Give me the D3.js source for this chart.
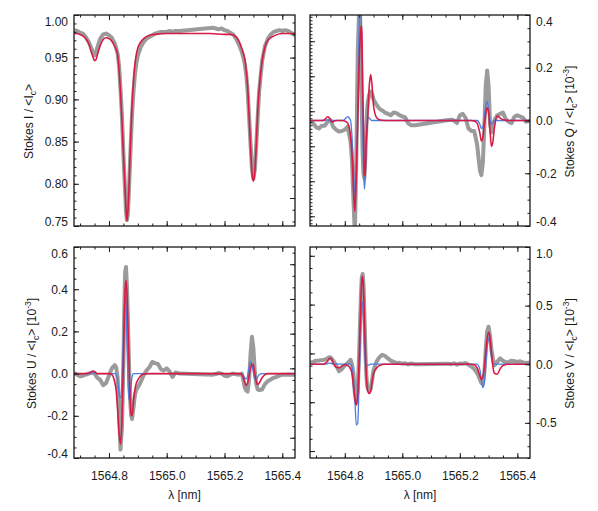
<!DOCTYPE html>
<html>
<head>
<meta charset="utf-8">
<title>Stokes profiles</title>
<style>
    body { margin: 0; background: #fff; }
    svg { display: block; font-family: "Liberation Sans", Arial, Helvetica, sans-serif; }
</style>
<script src="https://d3js.org/d3.v7.min.js"></script>
</head>
<body>
<svg id="chart" width="598" height="511"></svg>
<script>
// wavelength window and x tick labels [nm]
const wlRange = [1564.679, 1565.444];
const wlTicks = [1564.8, 1565.0, 1565.2, 1565.4];

// y tick labels per Stokes parameter
const iTicks = [0.75, 0.80, 0.85, 0.90, 0.95, 1.00];
const qTicks = [-0.4, -0.2, 0.0, 0.2, 0.4];
const uTicks = [-0.4, -0.2, 0.0, 0.2, 0.4, 0.6];
const vTicks = [-0.5, 0.0, 0.5, 1.0];

// observed profile samples (gray)
const obsWl = [
    1564.680, 1564.690, 1564.700, 1564.710, 1564.720, 1564.730, 1564.740, 1564.745, 1564.750, 1564.755,
    1564.760, 1564.770, 1564.780, 1564.790, 1564.800, 1564.810, 1564.820, 1564.825, 1564.830, 1564.835,
    1564.840, 1564.845, 1564.850, 1564.853, 1564.856, 1564.859, 1564.862, 1564.865, 1564.868, 1564.871,
    1564.874, 1564.877, 1564.880, 1564.885, 1564.890, 1564.895, 1564.900, 1564.910, 1564.920, 1564.930,
    1564.940, 1564.950, 1564.960, 1564.970, 1564.980, 1564.990, 1565.000, 1565.010, 1565.020, 1565.030,
    1565.045, 1565.160, 1565.170, 1565.180, 1565.190, 1565.200, 1565.210, 1565.220, 1565.230, 1565.240,
    1565.250, 1565.260, 1565.265, 1565.270, 1565.275, 1565.280, 1565.285, 1565.290, 1565.295, 1565.300,
    1565.305, 1565.310, 1565.315, 1565.320, 1565.330, 1565.340, 1565.350, 1565.360, 1565.370, 1565.380,
    1565.390, 1565.400, 1565.410, 1565.420, 1565.430, 1565.445
];
const iObs = [
    0.982, 0.981, 0.979, 0.978, 0.974, 0.968, 0.960, 0.955, 0.952, 0.955,
    0.962, 0.972, 0.977, 0.978, 0.976, 0.973, 0.966, 0.961, 0.954, 0.940,
    0.912, 0.880, 0.836, 0.812, 0.790, 0.768, 0.757, 0.763, 0.782, 0.808,
    0.835, 0.860, 0.882, 0.910, 0.930, 0.943, 0.952, 0.962, 0.968, 0.972,
    0.974, 0.976, 0.978, 0.979, 0.980, 0.980, 0.980, 0.981, 0.980, 0.981,
    0.981, 0.985, 0.984, 0.983, 0.984, 0.982, 0.981, 0.979, 0.977, 0.972,
    0.965, 0.956, 0.950, 0.942, 0.930, 0.910, 0.880, 0.848, 0.818, 0.806,
    0.817, 0.846, 0.880, 0.910, 0.945, 0.963, 0.972, 0.977, 0.980, 0.981,
    0.982, 0.981, 0.982, 0.981, 0.979, 0.976
];
const qObs = [
    -0.005, -0.01, -0.025, -0.03, -0.02, -0.02, -0.005, 0.0, 0.002, -0.01,
    -0.025, -0.035, -0.042, -0.04, -0.035, -0.023, -0.08, -0.15, -0.30, -0.43,
    -0.15, 0.25, 0.43, 0.40, 0.25, 0.05, -0.12, -0.20, -0.22, -0.15,
    -0.05, 0.03, 0.07, 0.10, 0.11, 0.10, 0.08, 0.06, 0.045, 0.038,
    0.03, 0.025, 0.02, 0.03, 0.028, 0.02, 0.016, 0.012, -0.01, -0.018,
    -0.018, 0.002, 0.003, 0.0, -0.01, 0.02, 0.025, 0.01, -0.03, -0.04,
    -0.04, -0.09, -0.14, -0.19, -0.207, -0.16, -0.03, 0.13, 0.19, 0.13,
    -0.01, -0.045, -0.02, 0.0, 0.02, 0.025, 0.03, 0.005, -0.005, -0.01,
    0.015, 0.02, 0.015, 0.01, -0.005, -0.002
];
const uObs = [
    0.003, -0.005, -0.013, -0.01, -0.005, 0.0, 0.005, 0.003, 0.0, -0.01,
    -0.02, -0.03, -0.055, -0.045, -0.01, 0.025, 0.04, 0.03, -0.02, -0.2,
    -0.36, -0.25, 0.05, 0.3, 0.48, 0.505, 0.42, 0.28, 0.12, -0.03,
    -0.14, -0.2, -0.215, -0.16, -0.10, -0.075, -0.065, -0.04, -0.008, 0.015,
    0.03, 0.055, 0.05, 0.045, 0.02, 0.015, 0.025, 0.01, -0.016, 0.005,
    0.0, -0.005, -0.002, 0.003, 0.0, -0.01, -0.013, -0.005, 0.0, -0.003,
    -0.005, 0.0, -0.03, -0.065, -0.08, -0.085, -0.03, 0.09, 0.175, 0.12,
    0.005, -0.05, -0.075, -0.078, -0.075, -0.05, -0.035, -0.028, -0.02, -0.015,
    -0.01, -0.005, -0.006, -0.004, -0.005, -0.005
];
const vObs = [
    0.015, 0.02, 0.03, 0.032, 0.035, 0.038, 0.05, 0.06, 0.058, 0.045,
    0.03, -0.01, -0.06, -0.04, -0.01, 0.01, 0.038, 0.0, -0.08, -0.25,
    -0.33, -0.22, 0.1, 0.35, 0.58, 0.74, 0.77, 0.68, 0.45, 0.17,
    -0.05, -0.17, -0.21, -0.23, -0.21, -0.13, -0.05, 0.02, 0.06, 0.08,
    0.07, 0.05, 0.03, 0.02, 0.01, 0.012, 0.005, 0.008, -0.002, 0.006,
    0.0, 0.005, 0.0, 0.008, -0.004, 0.006, 0.004, 0.01, -0.005, -0.02,
    -0.04, -0.075, -0.10, -0.13, -0.16, -0.17, -0.08, 0.12, 0.28, 0.32,
    0.24, 0.12, 0.05, -0.01, 0.02, 0.05, 0.03, 0.015, 0.02, 0.03,
    0.025, 0.02, 0.025, 0.015, 0.01, 0.015
];

// synthetic profiles (blue = first fit, red = second fit)
const modelWl = [
    1564.68, 1564.70, 1564.72, 1564.73, 1564.74, 1564.745, 1564.75, 1564.755, 1564.76, 1564.77,
    1564.78, 1564.79, 1564.80, 1564.81, 1564.82, 1564.825, 1564.83, 1564.835, 1564.84, 1564.845,
    1564.85, 1564.853, 1564.856, 1564.859, 1564.862, 1564.865, 1564.868, 1564.871, 1564.874, 1564.877,
    1564.88, 1564.885, 1564.89, 1564.895, 1564.90, 1564.91, 1564.92, 1564.94, 1564.96, 1565.00,
    1565.05, 1565.10, 1565.15, 1565.20, 1565.22, 1565.24, 1565.25, 1565.26, 1565.27, 1565.275,
    1565.28, 1565.285, 1565.29, 1565.295, 1565.30, 1565.305, 1565.31, 1565.315, 1565.32, 1565.33,
    1565.34, 1565.35, 1565.37, 1565.40, 1565.445
];
const iRed = [
    0.978, 0.977, 0.972, 0.966, 0.955, 0.950, 0.946, 0.947, 0.953, 0.964,
    0.971, 0.973, 0.972, 0.969, 0.963, 0.959, 0.953, 0.935, 0.908, 0.875,
    0.835, 0.815, 0.793, 0.770, 0.756, 0.765, 0.785, 0.812, 0.842, 0.870,
    0.893, 0.922, 0.942, 0.954, 0.961, 0.968, 0.972, 0.976, 0.977, 0.978,
    0.978, 0.978, 0.978, 0.977, 0.977, 0.974, 0.969, 0.960, 0.948, 0.935,
    0.915, 0.880, 0.845, 0.813, 0.803, 0.815, 0.847, 0.887, 0.912, 0.945,
    0.962, 0.970, 0.975, 0.978, 0.978
];
const qBlue = [
    0.0, 0.0, 0.0, 0.0, 0.002, 0.0, 0.0, 0.0, 0.0, 0.0,
    0.0, 0.0, 0.005, 0.015, 0.0, -0.06, -0.18, -0.28, -0.22, 0.05,
    0.36, 0.46, 0.44, 0.25, 0.0, -0.17, -0.26, -0.22, -0.10, -0.02,
    0.01, 0.01, 0.003, 0.0, 0.0, 0.0, 0.0, 0.0, 0.0, 0.0,
    0.0, 0.0, 0.0, 0.0, 0.0, 0.0, 0.0, 0.0, -0.015, -0.03,
    -0.025, 0.01, 0.055, 0.072, 0.04, 0.0, -0.015, -0.01, 0.0, 0.0,
    0.0, 0.0, 0.0, 0.0, 0.0
];
const qRed = [
    0.0, 0.0, 0.0, 0.003, 0.014, 0.012, 0.002, -0.006, -0.004, 0.0,
    0.0, 0.0, -0.002, -0.01, -0.06, -0.13, -0.26, -0.345, -0.20, 0.0,
    0.22, 0.30, 0.35, 0.36, 0.15, -0.03, -0.20, -0.21, -0.09, -0.035,
    0.02, 0.13, 0.174, 0.13, 0.055, 0.012, 0.003, 0.0, 0.0, 0.0,
    0.0, 0.0, 0.0, 0.0, 0.0, 0.0, -0.002, -0.01, -0.05, -0.078,
    -0.065, -0.02, 0.025, 0.048, 0.03, -0.04, -0.098, -0.08, -0.03, 0.017,
    0.01, 0.003, 0.0, 0.0, 0.0
];
const uBlue = [
    0.0, 0.0, 0.0, 0.0, 0.003, 0.005, 0.003, 0.0, 0.0, 0.0,
    0.0, 0.0, 0.0, 0.0, 0.0, -0.005, -0.03, -0.09, -0.115, -0.04,
    0.15, 0.30, 0.37, 0.33, 0.18, 0.0, -0.10, -0.125, -0.10, -0.05,
    -0.015, 0.0, 0.0, 0.0, 0.0, 0.0, 0.0, 0.0, 0.0, 0.0,
    0.0, 0.0, 0.0, 0.0, 0.0, 0.0, 0.0, 0.0, -0.02, -0.026,
    -0.01, 0.03, 0.057, 0.045, 0.005, -0.025, -0.028, -0.015, -0.005, 0.0,
    0.0, 0.0, 0.0, 0.0, 0.0
];
const uRed = [
    0.0, 0.0, 0.0, 0.002, 0.008, 0.012, 0.01, 0.004, 0.0, 0.0,
    0.0, 0.0, 0.0, -0.005, -0.04, -0.08, -0.17, -0.28, -0.335, -0.22,
    0.05, 0.25, 0.40, 0.442, 0.39, 0.27, 0.12, -0.03, -0.14, -0.195,
    -0.20, -0.13, -0.075, -0.045, -0.03, -0.01, -0.002, 0.0, 0.0, 0.0,
    0.0, 0.0, 0.0, 0.0, 0.0, 0.0, 0.0, -0.005, -0.04, -0.056,
    -0.045, -0.01, 0.025, 0.045, 0.04, 0.0, -0.04, -0.052, -0.045, -0.02,
    -0.005, 0.0, 0.0, 0.0, 0.0
];
const vBlue = [
    0.0, 0.0, 0.0, 0.0, 0.005, 0.01, 0.01, 0.005, 0.0, 0.0,
    0.0, 0.0, 0.0, 0.0, 0.0, -0.02, -0.12, -0.30, -0.52, -0.50,
    -0.12, 0.15, 0.40, 0.51, 0.53, 0.40, 0.18, 0.03, -0.01, -0.012,
    -0.01, -0.005, 0.0, 0.0, 0.0, 0.0, 0.0, 0.0, 0.0, 0.0,
    0.0, 0.0, 0.0, 0.0, 0.0, 0.0, 0.0, 0.0, -0.05, -0.13,
    -0.20, -0.16, -0.02, 0.15, 0.225, 0.17, 0.06, 0.01, 0.0, 0.0,
    0.0, 0.0, 0.0, 0.0, 0.0
];
const vRed = [
    0.0, 0.0, 0.0, 0.005, 0.025, 0.045, 0.053, 0.04, 0.01, -0.025,
    -0.03, -0.015, -0.005, -0.01, -0.04, -0.08, -0.18, -0.29, -0.35, -0.25,
    0.05, 0.30, 0.55, 0.72, 0.75, 0.65, 0.42, 0.15, -0.06, -0.18,
    -0.23, -0.25, -0.23, -0.15, -0.08, -0.035, -0.012, 0.0, 0.0, 0.0,
    0.0, 0.0, 0.0, 0.0, 0.0, 0.0, -0.005, -0.03, -0.10, -0.13,
    -0.11, -0.03, 0.10, 0.22, 0.272, 0.23, 0.10, -0.02, -0.075, -0.085,
    -0.04, -0.01, 0.0, 0.0, 0.0
];

const panels = [
    { key: "I", col: 0, row: 0, obs: iObs, blue: null, red: iRed, yRange: [0.75, 1.0], ticks: iTicks,
      minor: 0.01, digits: 2, unit: false, sec: [-2.39, 15.64], secMajor: 6, titleX: 33 },
    { key: "Q", col: 1, row: 0, obs: qObs, blue: qBlue, red: qRed, yRange: [-0.4, 0.4], ticks: qTicks,
      minor: 0.05, digits: 1, unit: true, sec: [-2.77, 57.5], secMajor: 10, titleX: 574 },
    { key: "U", col: 0, row: 1, obs: uObs, blue: uBlue, red: uRed, yRange: [-0.4, 0.6], ticks: uTicks,
      minor: 0.05, digits: 1, unit: true, sec: [-1.75, 16.49], secMajor: 3, titleX: 36 },
    { key: "V", col: 1, row: 1, obs: vObs, blue: vBlue, red: vRed, yRange: [-0.8, 1.0], ticks: vTicks,
      minor: 0.1, digits: 1, unit: true, sec: [-0.57, 16.72], secMajor: 4, titleX: 574 }
];

const colX = [74, 310], colW = [221, 220];
const rowY = [15, 247], rowH = 211;
const ink = "#1a1a1a";
const fontSize = 12;

const svg = d3.select("#chart");
const defs = svg.append("defs");

function ticksAxis(g, axisFn, scale, values, tx, ty, size) {
    const a = g.append("g")
        .attr("transform", `translate(${tx},${ty})`)
        .call(axisFn(scale).tickValues(values).tickSizeInner(-size).tickSizeOuter(0).tickFormat(""));
    a.select(".domain").remove();
    a.selectAll("line").attr("stroke", ink).attr("stroke-width", 1);
    return a;
}

function stepValues(lo, hi, step) {
    const out = [];
    const n0 = Math.ceil(lo / step - 1e-6), n1 = Math.floor(hi / step + 1e-6);
    for (let n = n0; n <= n1; n++) out.push(+(n * step).toFixed(6));
    return out;
}

panels.forEach((p, idx) => {
    const left = colX[p.col], width = colW[p.col];
    const top = rowY[p.row], bottom = top + rowH;
    const right = left + width;

    const x = d3.scaleLinear().domain(wlRange).range([left, right]);
    const y = d3.scaleLinear().domain(p.yRange).range([bottom, top]);
    const ySec = d3.scaleLinear().domain(p.sec).range([bottom, top]);

    const g = svg.append("g").attr("class", "panel-" + p.key);

    defs.append("clipPath").attr("id", "clip" + idx)
        .append("rect").attr("x", left).attr("y", top).attr("width", width).attr("height", rowH);

    const plot = g.append("g").attr("clip-path", `url(#clip${idx})`);

    const lineLin = d3.line().x(d => x(d[0])).y(d => y(d[1])).curve(d3.curveLinear);
    const lineSmooth = d3.line().x(d => x(d[0])).y(d => y(d[1])).curve(d3.curveMonotoneX);

    plot.append("path")
        .datum(obsWl.map((w, i) => [w, p.obs[i]]))
        .attr("d", lineLin)
        .attr("fill", "none")
        .attr("stroke", "#9b9b9b")
        .attr("stroke-width", 4)
        .attr("stroke-linejoin", "round");

    if (p.blue) {
        plot.append("path")
            .datum(modelWl.map((w, i) => [w, p.blue[i]]))
            .attr("d", lineSmooth)
            .attr("fill", "none")
            .attr("stroke", "#4a7de0")
            .attr("stroke-width", 1.3);
    }

    plot.append("path")
        .datum(modelWl.map((w, i) => [w, p.red[i]]))
        .attr("d", lineSmooth)
        .attr("fill", "none")
        .attr("stroke", "#d81b45")
        .attr("stroke-width", 1.6);

    // frame
    g.append("rect")
        .attr("x", left).attr("y", top).attr("width", width).attr("height", rowH)
        .attr("fill", "none").attr("stroke", ink).attr("stroke-width", 1.3);

    // x ticks, top and bottom
    const xMinor = stepValues(wlRange[0], wlRange[1], 0.05);
    ticksAxis(g, d3.axisTop, x, xMinor, 0, top, 2.5);
    ticksAxis(g, d3.axisTop, x, wlTicks, 0, top, 5);
    ticksAxis(g, d3.axisBottom, x, xMinor, 0, bottom, 2.5);
    const xb = ticksAxis(g, d3.axisBottom, x, wlTicks, 0, bottom, 5);
    if (p.row === 1) {
        xb.call(d3.axisBottom(x).tickValues(wlTicks).tickSizeInner(-5).tickSizeOuter(0)
                .tickPadding(13.5).tickFormat(d => d.toFixed(1)));
        xb.select(".domain").remove();
        xb.selectAll("line").attr("stroke", ink);
        xb.attr("font-size", fontSize).attr("font-family", null).attr("color", ink);

        g.append("text")
            .attr("x", (left + right) / 2).attr("y", 499)
            .attr("text-anchor", "middle")
            .attr("font-size", fontSize)
            .attr("fill", ink)
            .text("\u03bb [nm]");
    }

    // labelled y axis and secondary axis on the other side
    const labelLeft = p.col === 0;
    const mainFn = labelLeft ? d3.axisLeft : d3.axisRight;
    const secFn = labelLeft ? d3.axisRight : d3.axisLeft;
    const mainX = labelLeft ? left : right;
    const secX = labelLeft ? right : left;

    ticksAxis(g, mainFn, y, stepValues(p.yRange[0], p.yRange[1], p.minor), mainX, 0, 2.5);
    const ya = g.append("g")
        .attr("transform", `translate(${mainX},0)`)
        .call(mainFn(y).tickValues(p.ticks).tickSizeInner(-5).tickSizeOuter(0)
              .tickPadding(6).tickFormat(d => d.toFixed(p.digits)));
    ya.select(".domain").remove();
    ya.selectAll("line").attr("stroke", ink);
    ya.attr("font-size", fontSize).attr("font-family", null).attr("color", ink);
    ya.selectAll(".tick").filter(d => Math.abs(y(d) - top) < 0.5).select("text").attr("y", 6.7);
    ya.selectAll(".tick").filter(d => Math.abs(y(d) - bottom) < 0.5).select("text").attr("y", -4.3);

    const secAll = stepValues(p.sec[0], p.sec[1], 1);
    ticksAxis(g, secFn, ySec, secAll, secX, 0, 2.5);
    ticksAxis(g, secFn, ySec, secAll.filter(v => v % p.secMajor === 0), secX, 0, 5);

    // rotated y title
    const t = g.append("text")
        .attr("transform", `translate(${p.titleX},${(top + bottom) / 2 + 1}) rotate(-90)`)
        .attr("text-anchor", "middle")
        .attr("font-size", fontSize)
        .attr("fill", ink);
    t.append("tspan").text(`Stokes ${p.key} / <I`);
    t.append("tspan").attr("dy", 3).attr("font-size", 8.5).text("c");
    t.append("tspan").attr("dy", -3).text(">");
    if (p.unit) {
        t.append("tspan").text(" [10");
        t.append("tspan").attr("dy", -5).attr("font-size", 8.5).text("-3");
        t.append("tspan").attr("dy", 5).text("]");
    }
});
</script>
</body>
</html>
